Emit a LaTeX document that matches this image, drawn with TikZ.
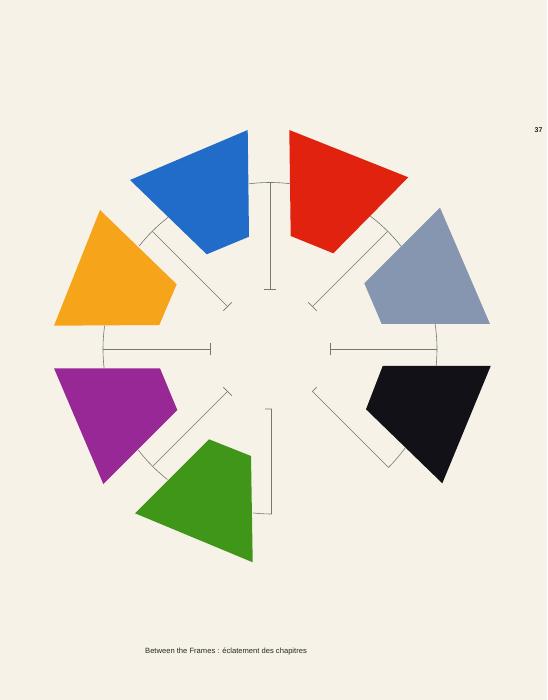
\documentclass[tikz,border=0pt]{standalone}
\usepackage{fontspec}
\setmainfont{Liberation Sans}
\usetikzlibrary{calc}
\definecolor{paper}{RGB}{246,242,232}
\definecolor{cblue}{RGB}{32,108,200}
\definecolor{cred}{RGB}{224,34,14}
\definecolor{cgrey}{RGB}{134,150,176}
\definecolor{cblack}{RGB}{18,17,24}
\definecolor{cgreen}{RGB}{64,150,24}
\definecolor{cpurple}{RGB}{152,40,150}
\definecolor{corange}{RGB}{246,164,26}
\definecolor{cline}{RGB}{118,118,118}
\begin{document}
\begin{tikzpicture}[x=1pt,y=1pt,
  panel/.style={fill=#1,draw=none},
  link/.style={draw=cline,line width=0.6pt}]
\fill[paper] (0,0) rectangle (547,700);
\useasboundingbox (0,0) rectangle (547,700);
\coordinate (C) at (270,351);
% panels
\fill[panel=cblue]   (130,520) -- (247.7,570) -- (249,463.3) -- (206.7,445.7) -- cycle;
\fill[panel=cred]    (289.3,570) -- (408.3,522.7) -- (333.3,446.7) -- (290.7,464) -- cycle;
\fill[panel=cgrey]   (440,492.3) -- (490,376) -- (381.7,376) -- (364.3,416.7) -- cycle;
\fill[panel=cblack]  (382.7,334) -- (490.7,334) -- (442.3,216.7) -- (366,290.7) -- cycle;
\fill[panel=cgreen]  (209,260.7) -- (251,244) -- (252.7,137.7) -- (135,186.7) -- cycle;
\fill[panel=cpurple] (54,331.7) -- (160,331.7) -- (177.3,290) -- (103.3,216) -- cycle;
\fill[panel=corange] (100,490) -- (176.7,415.7) -- (159.3,375) -- (54,374.3) -- cycle;
% connectors with full bars
\foreach \a/\s/\e/\r in {90/97.2/82.9/166.5, 45/53.1/38.1/166.5, 0/8.6/-5.8/167,
    135/127.8/141.8/166.5, 180/172/186.6/167, 225/217.5/231.8/166}{
  \draw[link] ($(C)+(\s:\r)$) arc[start angle=\s, end angle=\e, radius=\r];
  \draw[link] ($(C)+(\a:\r)$) -- ($(C)+(\a:60)$);
  \draw[link] ($(C)+(\a:60)+({\a+90}:6)$) -- ($(C)+(\a:60)+({\a-90}:6)$);
}
% bottom connector (half bar toward green)
\coordinate (B) at (271.5,351);
\draw[link] ($(B)+(263.6:165)$) arc[start angle=263.6, end angle=270, radius=165]
  -- ($(B)+(270:60)$) -- ++(180:6.5);
% lower right connector (half bar toward black)
\draw[link] ($(C)+(323.9:167.5)$) arc[start angle=323.9, end angle=315, radius=167.5]
  -- ($(C)+(315:60)$) -- ++(45:6);
% texts
\node[anchor=base west,inner sep=0,font=\fontsize{7.6}{9}\selectfont,text=black!85] (cap) at (145,46)
  {Between the Frames : éclatement des chapitres};
\node[inner sep=0,font=\fontsize{7}{8}\selectfont\bfseries,text=black!85] (pg) at (538.5,570) {37};
\end{tikzpicture}
\end{document}
